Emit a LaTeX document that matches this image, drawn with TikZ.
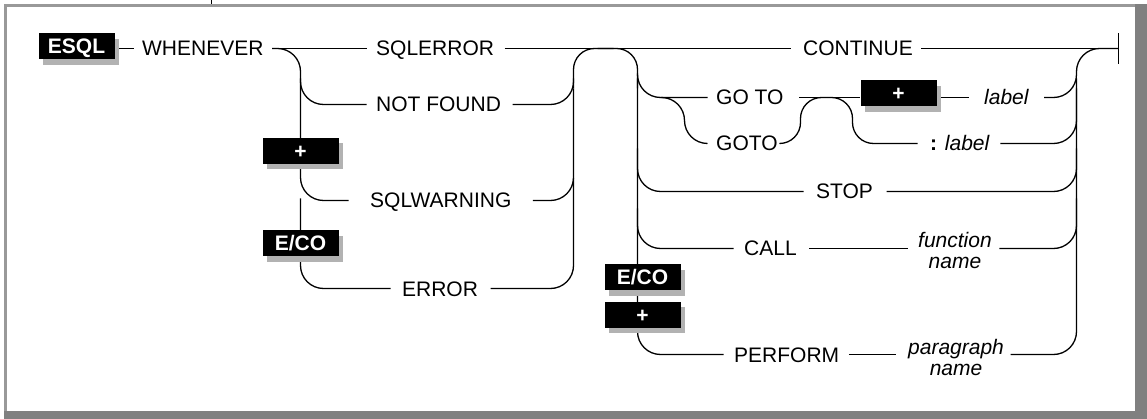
\documentclass[tikz,border=0pt]{standalone}
\usepackage{fontspec}
\setmainfont{Liberation Sans}
\usetikzlibrary{calc,shadows}
\newcommand\diafont{\fontsize{21pt}{21pt}\selectfont}
\pgfdeclarelayer{bg}
\pgfsetlayers{bg,main}
\begin{document}
\begin{tikzpicture}[x=1pt,y=-1pt, line width=1.3pt,
  kw/.style={font=\diafont, inner sep=0pt, text height=15pt, text depth=0pt, anchor=west},
  var/.style={kw, font=\diafont\itshape},
  vartwo/.style={font=\diafont\itshape, align=center, inner sep=0pt, anchor=west},
  keybox/.style={fill=black, text=white, font=\diafont\bfseries, minimum width=76pt,
    minimum height=26pt, inner sep=0pt, text height=15pt, text depth=0pt,
    drop shadow={shadow xshift=4.5pt, shadow yshift=-5.5pt, fill=black!30, opacity=1}},
  conn/.style={line width=1.3pt, draw=black},
  rc/.style={conn, rounded corners=23pt},
  arch/.style={conn, rounded corners=21pt}]
\useasboundingbox (0,0) rectangle (1147,419);

% frame
\fill[black!50] (4.3,410.7) rectangle (1147,419);
\fill[black!50] (1134.5,4.3) rectangle (1147,419);
\draw[black!40, line width=2.4pt] (5.5,410.7) -- (5.5,5.5) -- (1134.5,5.5);
\draw[line width=1pt] (211.5,0) -- (211.5,4.3);

\begin{scope}[shift={(0.5,0.5)}]
% nodes
\node[keybox] (esql) at (76,46) {ESQL};
\node[kw] (whenever) at (141,48) {WHENEVER};
\node[kw] (sqlerror) at (375,48) {SQLERROR};
\node[kw] (continue) at (802,48) {CONTINUE};
\node[kw] (notfound) at (375,104) {NOT FOUND};
\node[keybox] (plusA) at (300,150.5) {+};
\node[kw] (sqlwarning) at (369,200) {SQLWARNING};
\node[keybox] (ecoA) at (300,243) {E/CO};
\node[kw] (error) at (401,288) {ERROR};
\node[kw] (goto1) at (715,97) {GO TO};
\node[kw] (goto2) at (715,143) {GOTO};
\node[keybox] (plusB) at (898,93) {+};
\node[var] (label1) at (983,97) {label};
\node[kw] (label2) at (929,143) {\textbf{:} \textit{label}};
\node[kw] (stop) at (815,191) {STOP};
\node[kw] (call) at (743,248) {CALL};
\node[vartwo] (function) at (917,250) {function\\name};
\node[keybox] (ecoB) at (642,277) {E/CO};
\node[keybox] (plusC) at (642,314) {+};
\node[kw] (perform) at (733,354) {PERFORM};
\node[vartwo] (paragraph) at (907,357) {paragraph\\name};

\coordinate (L) at (300,48);
\coordinate (M) at (573,48);
\coordinate (R) at (637,48);
\coordinate (E) at (1076,48);
\coordinate (G) at (684,97);
\coordinate (H1) at (800,97);
\coordinate (H2) at (852,97);
\coordinate (stopbar) at (1118,48);

\begin{pgfonlayer}{bg}
% main line
\draw[conn] (esql.east |- whenever.west) -- ([xshift=-8pt]whenever.west);
\draw[conn] ([xshift=8pt]whenever.east) -- ([xshift=-9pt]sqlerror.west);
\draw[conn] ([xshift=10pt]sqlerror.east) -- ([xshift=-12pt]continue.west);
\draw[conn] ([xshift=8pt]continue.east) -- (stopbar);
\draw[conn] ([yshift=15pt]stopbar) -- ([yshift=-16pt]stopbar);

% left rail
\draw[rc] ([xshift=8pt]whenever.east) -- (L) -- (L |- notfound.west) -- ([xshift=-9pt]notfound.west);
\draw[rc] ($(L)+(0,30)$) -- (L |- sqlwarning.west) -- ([xshift=-21pt]sqlwarning.west);
\draw[rc] ($(L)+(0,150)$) -- (L |- error.west) -- ([xshift=-11pt]error.west);

% joining rail
\draw[rc] ([xshift=11pt]notfound.east) -- (M |- notfound.east) -- ($(M)+(0,30)$);
\draw[arch] ($(M)+(0,40)$) -- (M) -- ($(M)+(40,0)$);
\draw[rc] ([xshift=21pt]sqlwarning.east) -- (M |- sqlwarning.east) -- ($(M)+(0,40)$);
\draw[rc] ([xshift=12pt]error.east) -- (M |- error.east) -- ($(M)+(0,130)$);

% splitting rail
\draw[arch] ($(R)-(40,0)$) -- (R) -- ($(R)+(0,40)$);
\draw[rc] ($(R)+(0,30)$) -- (R |- perform.west) -- ([xshift=-10pt]perform.west);
\draw[rc] ($(R)+(0,25)$) -- (R |- goto1.west) -- ([xshift=-8pt]goto1.west);
\draw[rc] ($(G)-(24,0)$) -- (G) -- (G |- goto2.west) -- ([xshift=-8pt]goto2.west);
\draw[rc] ($(R)+(0,100)$) -- (R |- stop.west) -- ([xshift=-12pt]stop.west);
\draw[rc] ($(R)+(0,160)$) -- (R |- call.west) -- ([xshift=-10pt]call.west);

% GO TO / GOTO
\draw[conn] ([xshift=15pt]goto1.east) -- (plusB.west |- goto1.east);
\draw[conn] (plusB.east |- label1.west) -- ([xshift=-15pt]label1.west);
\draw[arch] ([xshift=2pt]goto2.east) -- (H1 |- goto2.east) -- (H1) -- ($(H1)+(26,0)$);
\draw[arch] ($(H2)-(26,0)$) -- (H2) -- (H2 |- label2.west) -- ([xshift=-12pt]label2.west);

% CALL / PERFORM
\draw[conn] ([xshift=12pt]call.east) -- ($(function.west |- call.east)+(-10,0)$);
\draw[conn] ([xshift=9pt]perform.east) -- ($(paragraph.west |- perform.east)+(-12,0)$);

% closing rail
\draw[rc] ([xshift=15pt]label1.east) -- (E |- label1.east) -- (E) -- (stopbar);
\draw[rc] ([xshift=10pt]label2.east) -- (E |- label2.east) -- ($(E)+(0,40)$);
\draw[rc] ([xshift=13pt]stop.east) -- (E |- stop.east) -- ($(E)+(0,100)$);
\draw[rc] ($(function.east |- call.east)+(7,0)$) -- (E |- call.east) -- ($(E)+(0,150)$);
\draw[rc] ($(paragraph.east |- perform.east)+(6,0)$) -- (E |- perform.east) -- ($(E)+(0,30)$);
\end{pgfonlayer}
\end{scope}
\end{tikzpicture}
\end{document}
